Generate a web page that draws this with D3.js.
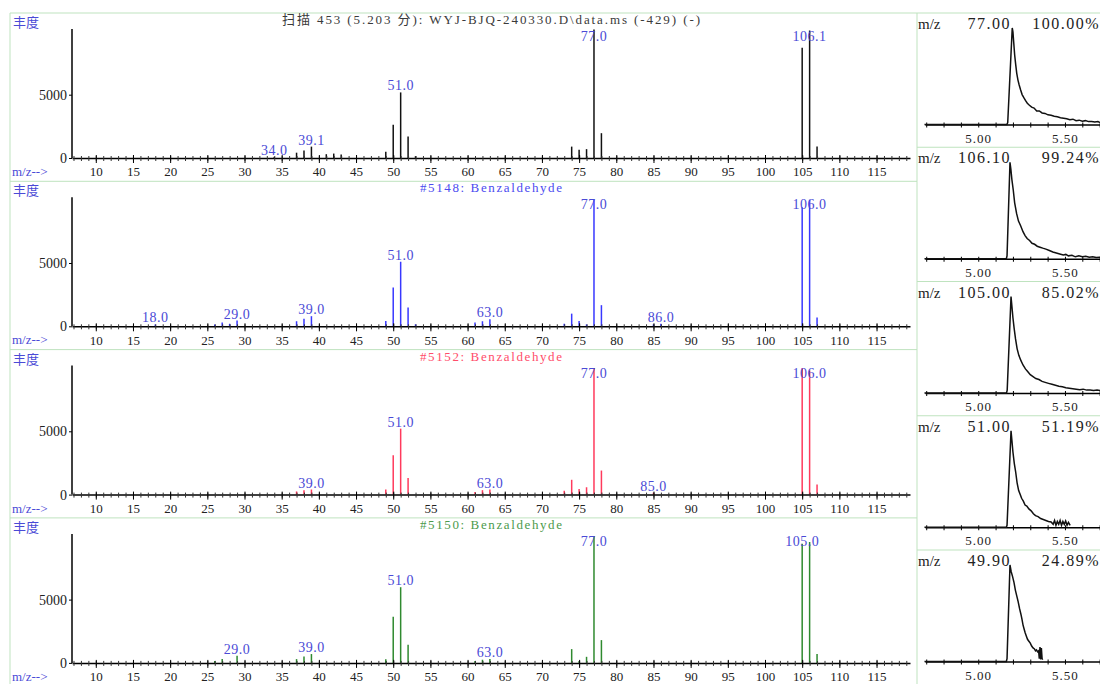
<!DOCTYPE html>
<html>
<head>
<meta charset="utf-8">
<title>Benzaldehyde library match</title>
<script src="https://cdnjs.cloudflare.com/ajax/libs/d3/7.8.5/d3.min.js"></script>
<style>
    body { margin: 0; background: #fff; }
    svg { display: block; font-family: "Liberation Serif", "Noto Sans CJK SC", serif; }
</style>
</head>
<body>
<svg width="1100" height="684"></svg>
<script>
// ---- spectra (left side) ----
const mzRange = [6.8, 119.5];
const mzMajorTicks = d3.range(10, 116, 5);
const mzMinorTicks = d3.range(7, 120, 1);
const abundanceTicks = [0, 5000];
const abundanceMax = 10190;

const panelTitles = [
    "扫描 453 (5.203 分): WYJ-BJQ-240330.D\\data.ms (-429) (-)",
    "#5148: Benzaldehyde",
    "#5152: Benzaldehyde",
    "#5150: Benzaldehyde"
];
const titleColors = ["#3a3a3a", "#4b4bf0", "#ff4d6a", "#4c9a4c"];
const peakColors = ["#111111", "#3838ff", "#ff3a5c", "#2f8a2f"];

// scan 453 (sample)
const scanMz    = [34, 37, 38, 39, 41, 42, 43, 49, 50, 51, 52, 53, 74, 75, 76, 77, 78, 105, 106, 107];
const scanAbund = [90, 420, 600, 900, 300, 350, 280, 500, 2620, 5180, 1690, 150, 900, 650, 700, 10150, 1960, 8700, 10070, 900];
const scanLabels = ["34.0", "39.1", "51.0", "77.0", "106.1"];

// library #5148
const lib5148Mz    = [18, 26, 27, 28, 29, 37, 38, 39, 49, 50, 51, 52, 53, 61, 62, 63, 73, 74, 75, 76, 77, 78, 85, 86, 105, 106, 107];
const lib5148Abund = [150, 150, 300, 200, 450, 400, 600, 800, 420, 3070, 5100, 1480, 160, 300, 400, 550, 200, 1000, 420, 150, 9999, 1670, 150, 200, 9400, 9999, 700];
const lib5148Labels = ["18.0", "29.0", "39.0", "51.0", "63.0", "77.0", "86.0", "106.0"];

// library #5152
const lib5152Mz    = [37, 38, 39, 49, 50, 51, 52, 61, 62, 63, 73, 74, 75, 76, 77, 78, 85, 105, 106, 107];
const lib5152Abund = [250, 350, 400, 400, 3100, 5210, 1320, 200, 350, 400, 300, 1170, 450, 580, 9999, 1900, 150, 9999, 9800, 800];
const lib5152Labels = ["39.0", "51.0", "63.0", "77.0", "85.0", "106.0"];

// library #5150
const lib5150Mz    = [26, 27, 29, 37, 38, 39, 49, 50, 51, 52, 61, 62, 63, 74, 75, 76, 77, 78, 105, 106, 107];
const lib5150Abund = [150, 300, 560, 300, 500, 700, 290, 3650, 5980, 1430, 150, 250, 300, 1090, 150, 480, 9999, 1800, 9420, 9550, 710];
const lib5150Labels = ["29.0", "39.0", "51.0", "63.0", "77.0", "105.0"];

// ---- extracted ion chromatograms (right side) ----
const timeRange = [4.693, 5.702];
const timeTicks = [4.7, 4.8, 4.9, 5.0, 5.1, 5.2, 5.3, 5.4, 5.5, 5.6, 5.7];
const timeLabels = [5.0, 5.5];
const ionMz = ["77.00", "106.10", "105.00", "51.00", "49.90"];
const ionPercent = ["100.00%", "99.24%", "85.02%", "51.19%", "24.89%"];

const ion77 = [[4.69,0],[5.165,0],[5.170,0.02],[5.196,1.0],[5.200,0.96],[5.205,0.84],[5.210,0.72],[5.216,0.62],[5.222,0.53],
    [5.229,0.46],[5.236,0.41],[5.244,0.36],[5.253,0.31],[5.262,0.28],[5.272,0.25],[5.283,0.22],[5.295,0.20],[5.308,0.18],
    [5.322,0.17],[5.337,0.14],[5.352,0.14],[5.368,0.12],[5.385,0.115],[5.402,0.10],[5.420,0.095],[5.438,0.085],[5.456,0.08],
    [5.474,0.07],[5.492,0.065],[5.510,0.06],[5.528,0.05],[5.546,0.055],[5.564,0.04],[5.582,0.045],[5.600,0.035],[5.618,0.04],
    [5.636,0.03],[5.654,0.03],[5.672,0.025],[5.690,0.03],[5.702,0.02]];
const ion106 = [[4.69,0],[5.162,0],[5.166,0.03],[5.183,1.0],[5.188,0.93],[5.194,0.82],[5.202,0.71],[5.210,0.58],[5.221,0.47],
    [5.232,0.39],[5.245,0.34],[5.258,0.28],[5.270,0.24],[5.282,0.21],[5.296,0.19],[5.310,0.16],[5.325,0.15],[5.340,0.13],
    [5.356,0.12],[5.372,0.11],[5.390,0.10],[5.410,0.085],[5.430,0.07],[5.450,0.06],[5.470,0.05],[5.490,0.04],[5.505,0.045],
    [5.520,0.03],[5.540,0.035],[5.560,0.02],[5.580,0.03],[5.600,0.02],[5.620,0.025],[5.640,0.015],[5.660,0.02],[5.680,0.012],[5.702,0.015]];
const ion105 = [[4.69,0],[5.163,0],[5.167,0.03],[5.189,1.0],[5.194,0.9],[5.200,0.78],[5.207,0.67],[5.215,0.56],[5.224,0.46],
    [5.234,0.39],[5.245,0.34],[5.258,0.29],[5.272,0.25],[5.286,0.22],[5.300,0.19],[5.316,0.17],[5.332,0.15],[5.350,0.14],
    [5.368,0.12],[5.386,0.11],[5.405,0.10],[5.425,0.09],[5.445,0.08],[5.465,0.07],[5.485,0.065],[5.505,0.055],[5.525,0.05],
    [5.545,0.045],[5.565,0.04],[5.585,0.035],[5.605,0.04],[5.625,0.03],[5.645,0.03],[5.665,0.025],[5.685,0.03],[5.702,0.025]];
const ion51 = [[4.69,0],[5.162,0],[5.166,0.02],[5.189,1.0],[5.194,0.9],[5.200,0.78],[5.208,0.66],[5.216,0.57],[5.224,0.46],
    [5.233,0.38],[5.242,0.34],[5.250,0.30],[5.260,0.27],[5.270,0.23],[5.280,0.22],[5.292,0.19],[5.305,0.17],[5.318,0.14],
    [5.330,0.12],[5.345,0.11],[5.360,0.09],[5.375,0.08],[5.390,0.07],[5.405,0.06],[5.420,0.055],[5.432,0.03],[5.440,0.07],
    [5.448,0.02],[5.456,0.06],[5.464,0.03],[5.472,0.07],[5.480,0.02],[5.488,0.06],[5.496,0.03],[5.504,0.065],[5.512,0.02],
    [5.520,0.05],[5.530,0.02]];
const ion49 = [[4.69,0],[5.162,0],[5.166,0.03],[5.183,1.0],[5.190,0.93],[5.198,0.88],[5.206,0.82],[5.214,0.74],[5.222,0.68],
    [5.230,0.62],[5.238,0.55],[5.246,0.49],[5.252,0.44],[5.258,0.38],[5.264,0.34],[5.270,0.30],[5.276,0.27],[5.284,0.23],
    [5.292,0.21],[5.300,0.19],[5.308,0.16],[5.316,0.14],[5.324,0.13],[5.330,0.11],[5.336,0.12],[5.342,0.10],[5.348,0.11],
    [5.352,0.03],[5.356,0.15],[5.360,0.02],[5.364,0.14],[5.368,0.03],[5.372,0.02]];

const spectra = [
    { mz: scanMz, ab: scanAbund, labels: scanLabels },
    { mz: lib5148Mz, ab: lib5148Abund, labels: lib5148Labels },
    { mz: lib5152Mz, ab: lib5152Abund, labels: lib5152Labels },
    { mz: lib5150Mz, ab: lib5150Abund, labels: lib5150Labels }
];
const chroms = [ion77, ion106, ion105, ion51, ion49];

const svg = d3.select("svg");
const frameColor = "#bfe3bf";
const labelBlue = "#4a4ad6";
const panelStep = 168.3;
const chromStep = 134.25;

// frame
svg.append("line").attr("x1", 10).attr("x2", 1100).attr("y1", 13).attr("y2", 13).attr("stroke", frameColor);
svg.append("line").attr("x1", 10).attr("x2", 10).attr("y1", 13).attr("y2", 684).attr("stroke", frameColor);
svg.append("line").attr("x1", 917).attr("x2", 917).attr("y1", 13).attr("y2", 684).attr("stroke", frameColor);
for (let i = 1; i < 4; i++) {
    let yy = 13 + i * panelStep;
    svg.append("line").attr("x1", 10).attr("x2", 917).attr("y1", yy).attr("y2", yy).attr("stroke", frameColor);
}
for (let k = 1; k < 5; k++) {
    let yy = 13 + k * chromStep;
    svg.append("line").attr("x1", 917).attr("x2", 1100).attr("y1", yy).attr("y2", yy).attr("stroke", frameColor);
}

spectra.forEach((s, i) => {
    const top = 13 + i * panelStep;
    const base = top + 145;
    const x = d3.scaleLinear().domain(mzRange).range([72, 910]);
    const y = d3.scaleLinear().domain([0, abundanceMax]).range([base, base - 129]);
    const g = svg.append("g");

    g.append("text").attr("x", 13).attr("y", top + 14).attr("font-size", 13)
        .attr("fill", labelBlue).text("丰度");
    g.append("text").attr("x", 12).attr("y", base + 18).attr("font-size", 13)
        .attr("fill", labelBlue).text("m/z-->");
    g.append("text").attr("x", 491).attr("y", top + 11).attr("font-size", 13)
        .attr("text-anchor", "middle").attr("fill", titleColors[i])
        .attr("textLength", i === 0 ? 418 : 142).attr("lengthAdjust", "spacing")
        .text(panelTitles[i]);

    // peaks
    g.selectAll("line.peak").data(d3.zip(s.mz, s.ab)).join("line")
        .attr("class", "peak")
        .attr("x1", d => x(d[0])).attr("x2", d => x(d[0]))
        .attr("y1", base).attr("y2", d => y(d[1]))
        .attr("stroke", peakColors[i]).attr("stroke-width", 1.5);

    // axes
    const minor = g.append("g").attr("transform", `translate(0,${base})`)
        .call(d3.axisBottom(x).tickValues(mzMinorTicks).tickSize(3).tickSizeOuter(0).tickFormat(""));
    minor.select(".domain").attr("stroke", "#000").attr("stroke-width", 1.5);
    minor.selectAll(".tick line").attr("y1", -2).attr("stroke", "#333");

    const major = g.append("g").attr("transform", `translate(0,${base})`)
        .call(d3.axisBottom(x).tickValues(mzMajorTicks).tickSize(5).tickPadding(4).tickSizeOuter(0));
    major.select(".domain").remove();
    major.selectAll(".tick line").attr("y1", -3);
    major.attr("font-family", "Liberation Serif").attr("font-size", 13);
    major.selectAll("text").attr("fill", "#222");

    const ya = g.append("g").attr("transform", "translate(72,0)")
        .call(d3.axisLeft(y).tickValues(abundanceTicks).tickFormat(d3.format("d"))
            .tickSize(3).tickPadding(2).tickSizeOuter(0));
    ya.select(".domain").attr("stroke-width", 1.5)
        .attr("d", `M0,${base}V${base - 129}`);
    ya.attr("font-family", "Liberation Serif").attr("font-size", 14);
    ya.selectAll("text").attr("fill", "#222");

    // peak labels
    s.labels.forEach(t => {
        let m = Math.round(parseFloat(t));
        let a = s.ab[s.mz.indexOf(m)];
        let ty = Math.max(y(a) - 2, base - 129 + 12);
        g.append("text").attr("x", x(m)).attr("y", ty)
            .attr("text-anchor", "middle").attr("font-size", 14)
            .attr("letter-spacing", 0.5).attr("fill", labelBlue).text(t);
    });
});

chroms.forEach((c, k) => {
    const top = 13 + k * chromStep;
    const base = top + 111.5;
    const x = d3.scaleLinear().domain(timeRange).range([925, 1100]);
    const y = d3.scaleLinear().domain([0, 1]).range([base, top + 15]);
    const g = svg.append("g");

    const ax = g.append("g").attr("transform", `translate(0,${base})`)
        .call(d3.axisBottom(x).tickValues(timeTicks).tickSize(3).tickPadding(6).tickSizeOuter(0)
            .tickFormat(d => timeLabels.includes(d) ? d3.format(".2f")(d) : ""));
    ax.select(".domain").attr("stroke-width", 1.5);
    ax.selectAll(".tick line").attr("y1", -2);
    ax.attr("font-family", "Liberation Serif").attr("font-size", 13);
    ax.selectAll("text").attr("fill", "#222").attr("letter-spacing", 1);

    g.append("path").datum(c)
        .attr("d", d3.line().x(d => x(d[0])).y(d => y(d[1])))
        .attr("fill", "none").attr("stroke", "#111").attr("stroke-width", 1.5);

    g.append("text").attr("x", 918).attr("y", top + 16).attr("font-size", 15).attr("fill", "#222").text("m/z");
    g.append("text").attr("x", 1011).attr("y", top + 16).attr("font-size", 16).attr("text-anchor", "end")
        .attr("letter-spacing", 1.5).attr("fill", "#222").text(ionMz[k]);
    g.append("text").attr("x", 1100).attr("y", top + 16).attr("font-size", 16).attr("text-anchor", "end")
        .attr("letter-spacing", 1.5).attr("fill", "#222").text(ionPercent[k]);
});
</script>
</body>
</html>
